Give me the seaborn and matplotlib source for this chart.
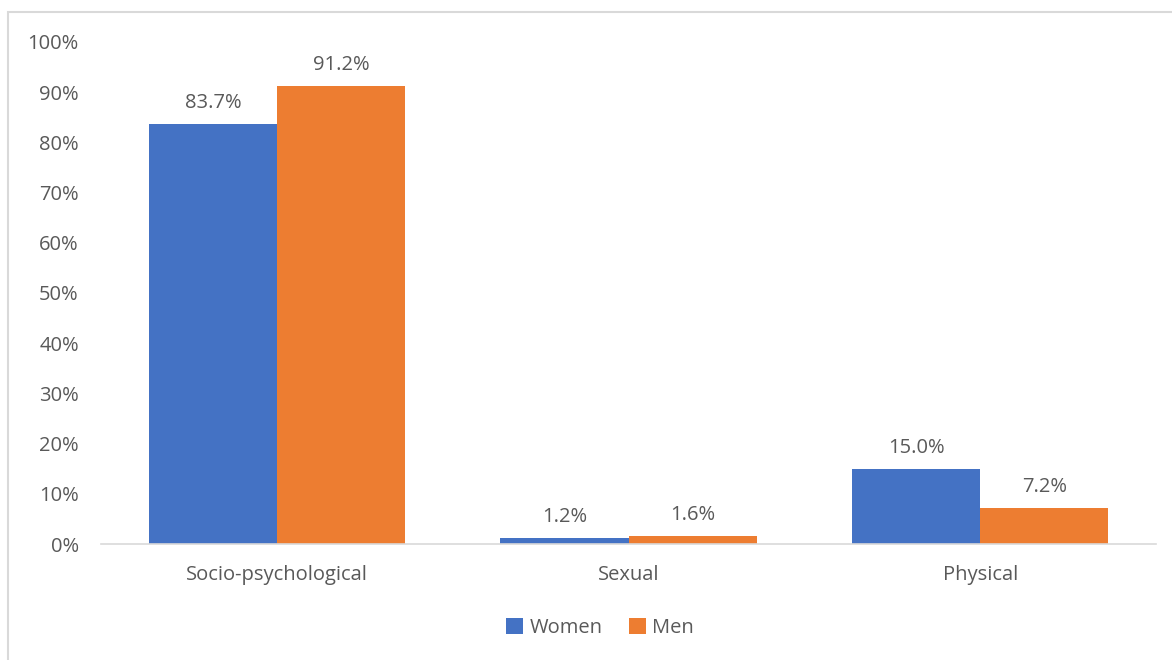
import matplotlib
matplotlib.use("Agg")
import matplotlib.pyplot as plt
import seaborn as sns
import pandas as pd
from matplotlib.patches import Rectangle
from matplotlib.ticker import PercentFormatter

categories = ["Socio-psychological", "Sexual", "Physical"]
series_names = ["Women", "Men"]
women = [83.7, 1.2, 15.0]
men = [91.2, 1.6, 7.2]
colors = ["#4472C4", "#ED7D31"]

df = pd.DataFrame({
    "category": categories * 2,
    "group": [series_names[0]] * 3 + [series_names[1]] * 3,
    "value": women + men,
})

sns.set_theme(style="white")
plt.rcParams["font.family"] = ["Open Sans", "DejaVu Sans"]
text_color = "#595959"
fs = 14.5

fig = plt.figure(figsize=(11.72, 6.6), dpi=100)
ax = fig.add_axes([101 / 1172, 1 - 544 / 660, (1156 - 101) / 1172, (544 - 42) / 660])

sns.barplot(data=df, x="category", y="value", hue="group", palette=colors,
            width=0.728, saturation=1, ax=ax, legend=True, linewidth=0)

ax.set_ylim(0, 100)
ax.set_yticks(range(0, 101, 10))
ax.yaxis.set_major_formatter(PercentFormatter(decimals=0))
ax.set_xlabel("")
ax.set_ylabel("")
ax.set_xlim(-0.5, 2.5)
for s in ["top", "right", "left"]:
    ax.spines[s].set_visible(False)
ax.spines["bottom"].set_color("#D9D9D9")
ax.spines["bottom"].set_linewidth(1.2)
ax.tick_params(axis="y", length=0, labelsize=fs, colors=text_color, pad=16)
ax.tick_params(axis="x", length=0, labelsize=fs, colors=text_color, pad=15)
for lbl in ax.get_yticklabels() + ax.get_xticklabels():
    lbl.set_color(text_color)

for cont in ax.containers:
    ax.bar_label(cont, labels=[f"{v:.1f}%" for v in cont.datavalues],
                 padding=8, fontsize=fs, color=text_color)

leg = ax.legend(loc="center", bbox_to_anchor=(600 / 1172, 1 - 628 / 660),
                bbox_transform=fig.transFigure, ncol=2, frameon=False,
                fontsize=fs, handlelength=0.85, handleheight=0.85,
                handletextpad=0.3, columnspacing=1.3)
for t in leg.get_texts():
    t.set_color(text_color)

fig.patches.append(Rectangle((8 / 1172, -0.05), 1.1, 1 - 12 / 660 + 0.05,
                             transform=fig.transFigure, fill=False,
                             edgecolor="#D9D9D9", linewidth=1.5, zorder=-1))

fig.savefig("out.png", dpi=100, facecolor="white")
